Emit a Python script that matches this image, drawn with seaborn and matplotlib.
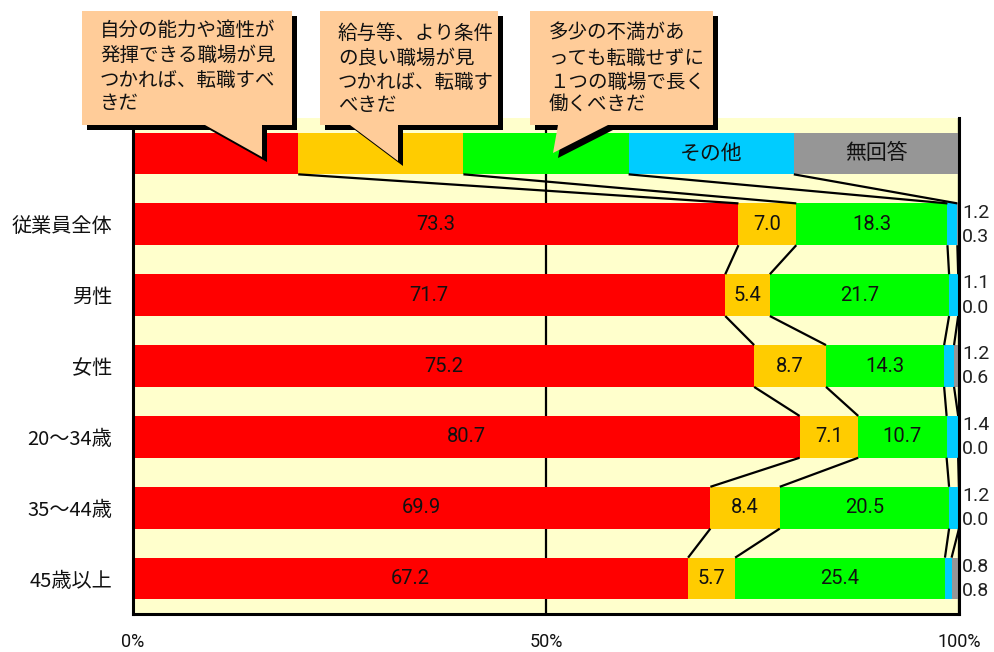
import numpy as np
import pandas as pd
import matplotlib
matplotlib.use("Agg")
import matplotlib.pyplot as plt
from matplotlib.patches import Polygon
import seaborn as sns

# ---- data -----------------------------------------------------------------
groups = ["従業員全体", "男性", "女性", "20～34歳", "35～44歳", "45歳以上"]
answers = [
    "自分の能力や適性が発揮できる職場が見つかれば、転職すべきだ",
    "給与等、より条件の良い職場が見つかれば、転職すべきだ",
    "多少の不満があっても転職せずに1つの職場で長く働くべきだ",
    "その他",
    "無回答",
]
ability = [73.3, 71.7, 75.2, 80.7, 69.9, 67.2]
better_pay = [7.0, 5.4, 8.7, 7.1, 8.4, 5.7]
stay_long = [18.3, 21.7, 14.3, 10.7, 20.5, 25.4]
other = [1.2, 1.1, 1.2, 1.4, 1.2, 0.8]
no_answer = [0.3, 0.0, 0.6, 0.0, 0.0, 0.8]
key_share = [20, 20, 20, 20, 20]          # equal-width key strip on top
x_ticks = [0, 50, 100]
x_tick_labels = ["0%", "50%", "100%"]

colors = ["#FF0000", "#FFCC00", "#00FF00", "#00CCFF", "#969696"]
bg_color = "#FFFFCC"
callout_color = "#FFCC99"

# ---- table ----------------------------------------------------------------
key_row = " "
order = [key_row] + groups
vals = np.column_stack([ability, better_pay, stay_long, other, no_answer])
vals = np.vstack([key_share, vals])
cum = np.cumsum(vals, axis=1)
df = pd.DataFrame(cum, columns=[f"c{i}" for i in range(5)])
df["group"] = order

# ---- figure ---------------------------------------------------------------
sns.set_style("white")
plt.rcParams["font.family"] = ["Noto Sans CJK JP", "DejaVu Sans"]

W, H = 995, 652
fig = plt.figure(figsize=(W / 100, H / 100), dpi=100)
fig.patch.set_facecolor("white")


def fpt(x, y):
    return (x / W, 1 - y / H)


ax = fig.add_axes([133 / W, 1 - 614 / H, (959 - 133) / W, (614 - 118) / H])
ax.set_facecolor(bg_color)

bar_h = 0.59
# stacked bars: longest cumulative first, shorter ones painted over it
for i in range(4, -1, -1):
    sns.barplot(data=df, x=f"c{i}", y="group", order=order, orient="h",
                color=colors[i], saturation=1, width=bar_h, errorbar=None,
                linewidth=0, ax=ax, zorder=2)

ax.set_xlim(0, 100)
ax.set_ylim(len(order) - 0.5, -0.5)
ax.set_xlabel("")
ax.set_ylabel("")

# axes decoration
ax.set_xticks(x_ticks)
ax.set_xticklabels(x_tick_labels, fontsize=13, family="Roboto")
ax.tick_params(axis="x", length=0, pad=14, colors="#111111")
ax.set_yticks(range(len(order)))
ax.set_yticklabels(["" if g == key_row else g for g in order], fontsize=14.5)
ax.tick_params(axis="y", length=0, pad=15, colors="#111111")
ax.set_yticks(np.arange(0.5, len(order) - 1, 1.0), minor=True)
ax.tick_params(axis="y", which="minor", direction="in", length=6, width=2,
               color="black")
ax.xaxis.grid(True, color="black", linewidth=1.6)
ax.yaxis.grid(False)
ax.set_axisbelow(True)
for side in ["left", "bottom", "right"]:
    ax.spines[side].set_visible(True)
    ax.spines[side].set_color("black")
    ax.spines[side].set_linewidth(2.2)
ax.spines["top"].set_visible(False)

# connector lines between neighbouring bars
half = bar_h / 2
for r in range(len(order) - 1):
    for k in range(4):
        ax.plot([cum[r, k], cum[r + 1, k]], [r + half, r + 1 - half],
                color="black", linewidth=1.6, zorder=3, solid_capstyle="butt")

# value labels inside the first three segments
for r in range(1, len(order)):
    start = 0.0
    for k in range(3):
        v = vals[r, k]
        ax.text(start + v / 2, r, f"{v:.1f}", ha="center", va="center",
                fontsize=14.5, family="Roboto", color="#111111", zorder=4)
        start += v
    # small shares written beside the bar
    ax.text(100.4, r - 0.165, f"{vals[r, 3]:.1f}", ha="left", va="center",
            fontsize=14, family="Roboto", color="#222222", clip_on=False)
    ax.text(100.4, r + 0.175, f"{vals[r, 4]:.1f}", ha="left", va="center",
            fontsize=14, family="Roboto", color="#222222", clip_on=False)

# key strip labels
ax.text(cum[0, 2] + key_share[3] / 2, 0, answers[3], ha="center", va="center",
        fontsize=15, color="#111111", zorder=4)
ax.text(cum[0, 3] + key_share[4] / 2, 0, answers[4], ha="center", va="center",
        fontsize=15, color="#111111", zorder=4)

# speech-bubble callouts for the three main answers
callouts = [
    dict(shape=[(82, 11), (292, 11), (292, 125), (262, 125), (262, 157),
                (205, 125), (82, 125)],
         x=100, ys=[30, 55, 80, 104],
         lines=["自分の能力や適性が", "発揮できる職場が見", "つかれば、転職すべ", "きだ"]),
    dict(shape=[(320, 11), (498, 11), (498, 125), (398, 125), (398, 161),
                (350, 125), (320, 125)],
         x=338, ys=[33, 58, 82, 106],
         lines=["給与等、より条件", "の良い職場が見", "つかれば、転職す", "べきだ"]),
    dict(shape=[(530, 11), (713, 11), (713, 125), (608, 125), (553, 153),
                (558, 125), (530, 125)],
         x=549, ys=[33, 58, 82, 104],
         lines=["多少の不満があ", "っても転職せずに", "１つの職場で長く", "働くべきだ"]),
]
shadow = 5
for c in callouts:
    pts = c["shape"]
    sh = Polygon([fpt(x + shadow, y + shadow) for x, y in pts], closed=True,
                 transform=fig.transFigure, facecolor="black",
                 edgecolor="none", zorder=5)
    fig.add_artist(sh)
    body = Polygon([fpt(x, y) for x, y in pts], closed=True,
                   transform=fig.transFigure, facecolor=callout_color,
                   edgecolor="none", zorder=6)
    fig.add_artist(body)
    for y, line in zip(c["ys"], c["lines"]):
        fx, fy = fpt(c["x"], y)
        fig.text(fx, fy, line, ha="left", va="center", fontsize=14,
                 color="#111111", zorder=7)

fig.savefig("out.png", dpi=100, facecolor="white")
